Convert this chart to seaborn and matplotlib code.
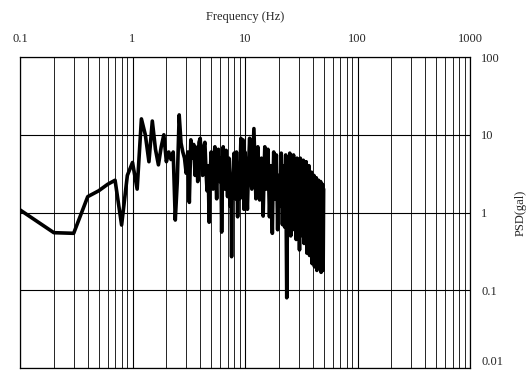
import matplotlib
matplotlib.use("Agg")
import matplotlib.pyplot as plt
import matplotlib.ticker as mticker
import seaborn as sns
import pandas as pd

# ---- data ----
freq_low = [0.1, 0.2, 0.3, 0.4, 0.5, 0.6, 0.7, 0.8, 0.9, 1.0, 1.1, 1.2, 1.3, 1.4,
            1.5, 1.6, 1.7, 1.8, 1.9, 2.0, 2.1, 2.2, 2.3, 2.4, 2.5, 2.6, 2.7, 2.8,
            2.9, 3.0, 3.1, 3.2, 3.3, 3.4, 3.5, 3.6, 3.7]
psd_low = [1.08, 0.55, 0.54, 1.6, 1.9, 2.3, 2.6, 0.69, 3.0, 4.4, 2.0, 16, 10, 4.5,
           15, 6.5, 4.1, 7, 10, 4.5, 6, 4.8, 6, 0.8, 2.5, 18, 7.8, 6,
           5, 3.2, 6, 1.35, 8.6, 5, 7.5, 3, 6.9]

freq_mid = [3.8, 3.9, 4.0, 4.1, 4.2, 4.3, 4.4, 4.5, 4.6, 4.7, 4.8, 4.9,
            5.0, 5.1, 5.2, 5.3, 5.4, 5.5, 5.6, 5.7, 5.8, 5.9,
            6.0, 6.1, 6.2, 6.3, 6.4, 6.5, 6.6, 6.7, 6.8, 6.9,
            7.0, 7.1, 7.2, 7.3, 7.4, 7.5, 7.6, 7.7, 7.8, 7.9,
            8.0, 8.1, 8.2, 8.3, 8.4, 8.5, 8.6, 8.7, 8.8, 8.9,
            9.0, 9.1, 9.2, 9.3, 9.4, 9.5, 9.6, 9.7, 9.8, 9.9, 10.0]
psd_mid = [2.5, 8, 9, 4, 3, 7, 8, 3.5, 1.9, 4, 0.75, 3,
           6, 4.5, 2, 5, 7, 3, 1.5, 4, 6.5, 4,
           2.5, 5, 0.56, 3, 7, 4, 2, 5, 6.3, 3,
           1.6, 4, 5, 2.5, 1.2, 3, 0.27, 2, 3, 4.5,
           5.8, 3, 1.5, 4, 6, 3, 0.88, 2.5, 4, 2.5,
           1.5, 5, 9, 4, 2.5, 5, 8.6, 3, 1.1, 3, 6]

freq_band = [10.25, 10.5, 10.75, 11.0, 11.25, 11.5, 11.75, 12.0, 12.25, 12.5,
             12.75, 13.0, 13.25, 13.5, 13.75, 14.0, 14.25, 14.5, 14.75, 15.0,
             15.25, 15.5, 15.75, 16.0, 16.25, 16.5, 16.75, 17.0, 17.25, 17.5,
             17.75, 18.0, 18.25, 18.5, 18.75, 19.0, 19.25, 19.5, 19.75, 20.0]
psd_band = [3, 1.1, 4, 9, 3, 2, 5, 12, 4, 1.5,
            3.5, 7, 3, 1.45, 3, 5, 2.5, 0.9, 3, 7,
            3.5, 2, 4, 6.5, 2.5, 0.88, 2, 4, 1.5, 0.54,
            2.5, 6, 3, 1.5, 3, 5.5, 2, 0.6, 2, 3]

freq_high = [20.5, 21.0, 21.5, 22.0,
             22.5, 23.0, 23.5, 24.0, 24.5, 25.0, 25.5, 26.0, 26.5, 27.0, 27.5, 28.0,
             28.5, 29.0, 29.5, 30.0, 30.5, 31.0, 31.5, 32.0, 32.5, 33.0, 33.5, 34.0,
             34.5, 35.0, 35.5, 36.0, 36.5, 37.0, 37.5, 38.0, 38.5, 39.0, 39.5, 40.0,
             40.5, 41.0, 41.5, 42.0, 42.5, 43.0, 43.5, 44.0, 44.5, 45.0, 45.5, 46.0,
             46.5, 47.0, 47.5, 48.0, 48.5, 49.0, 49.5, 50.0]
psd_high = [1.2, 5.8, 0.7, 4,
            0.65, 5.5, 0.08, 3, 0.9, 5.8, 0.5, 4.5, 0.8, 5.5, 0.6, 3.5,
            0.45, 5, 0.7, 4, 0.33, 5, 0.6, 3.8, 0.5, 4.7, 0.4, 3.5,
            0.65, 4.5, 0.3, 3.2, 0.5, 4, 0.28, 3, 0.45, 3.3, 0.22, 2.8,
            0.4, 3, 0.2, 2.6, 0.35, 2.8, 0.18, 2.4, 0.3, 2.6, 0.2, 2.2,
            0.25, 2.5, 0.17, 2.1, 0.2, 2.3, 0.18, 2.0]

x_ticks = [0.1, 1, 10, 100, 1000]
x_tick_labels = ["0.1", "1", "10", "100", "1000"]
y_ticks = [0.01, 0.1, 1, 10, 100]
y_tick_labels = ["0.01", "0.1", "1", "10", "100"]

df = pd.DataFrame({
    "freq": freq_low + freq_mid + freq_band + freq_high,
    "psd": psd_low + psd_mid + psd_band + psd_high,
})

sns.set_style("white")
plt.rcParams["font.family"] = ["Liberation Serif", "DejaVu Serif"]

fig = plt.figure(figsize=(5.26, 3.72), dpi=100)
ax = fig.add_axes([20 / 526, 1 - 368 / 372, 450 / 526, 311 / 372])

sns.lineplot(data=df, x="freq", y="psd", ax=ax, sort=False, estimator=None,
             color="black", linewidth=2.6)

ax.set_xscale("log")
ax.set_yscale("log")
ax.set_xlim(0.1, 1000)
ax.set_ylim(0.01, 100)

ax.xaxis.tick_top()
ax.xaxis.set_label_position("top")
ax.yaxis.tick_right()
ax.yaxis.set_label_position("right")

ax.set_xticks(x_ticks)
ax.set_xticklabels(x_tick_labels, fontsize=9)
ax.set_yticks(y_ticks)
ax.set_yticklabels(y_tick_labels, fontsize=9)
ax.get_yticklabels()[0].set_verticalalignment("bottom")
ax.xaxis.set_minor_locator(mticker.LogLocator(base=10, subs=range(2, 10)))
ax.xaxis.set_minor_formatter(mticker.NullFormatter())
ax.yaxis.set_minor_locator(mticker.NullLocator())
ax.tick_params(axis="both", which="both", length=0)
ax.tick_params(axis="x", pad=9)
ax.tick_params(axis="y", pad=8)

ax.grid(True, which="major", axis="both", color="black", linewidth=0.8)
ax.grid(True, which="minor", axis="x", color="black", linewidth=0.6)

for s in ax.spines.values():
    s.set_color("black")
    s.set_linewidth(0.9)

ax.set_xlabel("Frequency (Hz)", fontsize=9, labelpad=9)
ax.set_ylabel("PSD(gal)", fontsize=9, labelpad=8)

fig.savefig("out.png", dpi=100)
